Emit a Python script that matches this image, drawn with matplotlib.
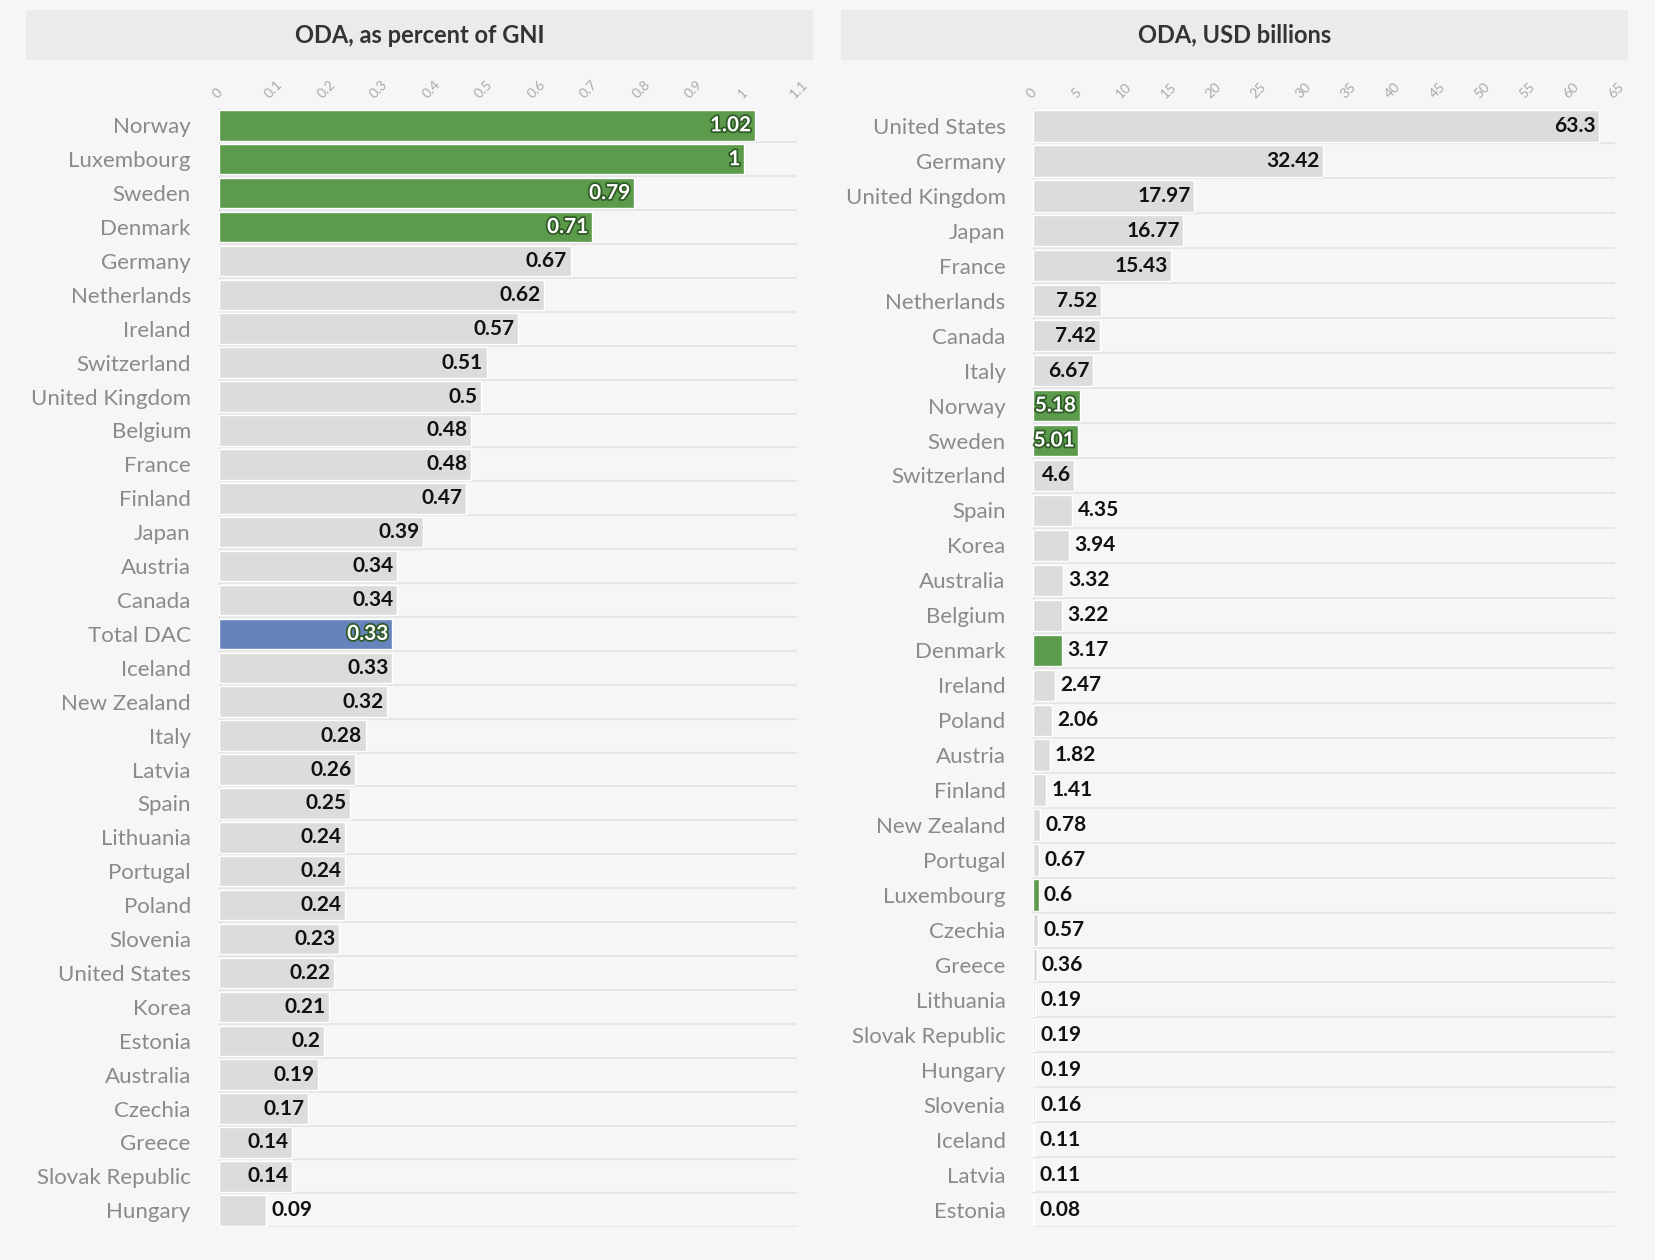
import matplotlib.pyplot as plt
import matplotlib.patheffects as pe

plt.rcParams['font.family'] = 'Lato'

# left panel: ODA as percent of GNI
gni_names = ['Norway', 'Luxembourg', 'Sweden', 'Denmark', 'Germany', 'Netherlands', 'Ireland',
             'Switzerland', 'United Kingdom', 'Belgium', 'France', 'Finland', 'Japan', 'Austria',
             'Canada', 'Total DAC', 'Iceland', 'New Zealand', 'Italy', 'Latvia', 'Spain',
             'Lithuania', 'Portugal', 'Poland', 'Slovenia', 'United States', 'Korea', 'Estonia',
             'Australia', 'Czechia', 'Greece', 'Slovak Republic', 'Hungary']
gni_vals = [1.02, 1, 0.79, 0.71, 0.67, 0.62, 0.57, 0.51, 0.5, 0.48, 0.48, 0.47, 0.39, 0.34,
            0.34, 0.33, 0.33, 0.32, 0.28, 0.26, 0.25, 0.24, 0.24, 0.24, 0.23, 0.22, 0.21, 0.2,
            0.19, 0.17, 0.14, 0.14, 0.09]

# right panel: ODA, USD billions
usd_names = ['United States', 'Germany', 'United Kingdom', 'Japan', 'France', 'Netherlands',
             'Canada', 'Italy', 'Norway', 'Sweden', 'Switzerland', 'Spain', 'Korea', 'Australia',
             'Belgium', 'Denmark', 'Ireland', 'Poland', 'Austria', 'Finland', 'New Zealand',
             'Portugal', 'Luxembourg', 'Czechia', 'Greece', 'Lithuania', 'Slovak Republic',
             'Hungary', 'Slovenia', 'Iceland', 'Latvia', 'Estonia']
usd_vals = [63.3, 32.42, 17.97, 16.77, 15.43, 7.52, 7.42, 6.67, 5.18, 5.01, 4.6, 4.35, 3.94,
            3.32, 3.22, 3.17, 2.47, 2.06, 1.82, 1.41, 0.78, 0.67, 0.6, 0.57, 0.36, 0.19, 0.19,
            0.19, 0.16, 0.11, 0.11, 0.08]

green_set = ['Norway', 'Luxembourg', 'Sweden', 'Denmark']
GREEN, BLUE, GREY, BG = '#5c9a4c', '#6683bd', '#dcdcdc', '#f6f6f8'


def color_of(n):
    if n in green_set:
        return GREEN
    if n == 'Total DAC':
        return BLUE
    return GREY


fig = plt.figure(figsize=(16.56, 12.6), dpi=100, facecolor=BG)


def panel(rect, title_rect, title, names, vals, xmax, ticks, tick_fmt, inside_min):
    tax = fig.add_axes(title_rect)
    tax.set_facecolor('#ebebeb')
    tax.set_xticks([]); tax.set_yticks([])
    for s in tax.spines.values():
        s.set_visible(False)
    tax.text(0.5, 0.5, title, ha='center', va='center', fontsize=17, fontweight='bold', color='#333333')

    ax = fig.add_axes(rect)
    ax.set_facecolor(BG)
    y = list(range(len(names)))
    cols = [color_of(n) for n in names]
    for yi in y:
        ax.axhline(yi + 0.5, color='#e6e6e6', lw=1.5, zorder=0)
    ax.barh(y, vals, height=0.9, color=cols, edgecolor='white', linewidth=1, zorder=2)
    ax.set_ylim(len(names) - 0.5, -0.5)
    ax.set_xlim(0, xmax)
    ax.set_yticks(y)
    ax.set_yticklabels(names, fontsize=16, color='#8a8a8a')
    ax.tick_params(axis='y', length=0, pad=20)
    ax.xaxis.tick_top()
    ax.set_xticks(ticks)
    ax.set_xticklabels([tick_fmt(t) for t in ticks], rotation=45, fontsize=10, color='#aaaaaa',
                       ha='left', rotation_mode='anchor')
    ax.tick_params(axis='x', length=0, pad=6)
    for s in ax.spines.values():
        s.set_visible(False)
    ax.axvline(0, color='#dddddd', lw=1, zorder=1)
    off = xmax * 0.006
    for yi, v, n, c in zip(y, vals, names, cols):
        lab = f'{v:g}'
        if c != GREY and v >= inside_min:
            t = ax.text(v - off, yi, lab, ha='right', va='center', fontsize=15, fontweight='bold',
                        color='white', zorder=3)
            t.set_path_effects([pe.withStroke(linewidth=2.5, foreground='#2e5a25')])
        elif c == GREY and v >= inside_min:
            ax.text(v - off, yi, lab, ha='right', va='center', fontsize=15, fontweight='bold',
                    color='#111111', zorder=3)
        else:
            ax.text(v + off * 1.5, yi, lab, ha='left', va='center', fontsize=15, fontweight='bold',
                    color='#111111', zorder=3)
    return ax


panel([0.132, 0.026, 0.349, 0.888], [0.016, 0.952, 0.475, 0.04], 'ODA, as percent of GNI',
      gni_names, gni_vals, 1.1, [i / 10 for i in range(12)], lambda t: f'{t:g}', 0.12)
panel([0.624, 0.026, 0.351, 0.888], [0.508, 0.952, 0.475, 0.04], 'ODA, USD billions',
      usd_names, usd_vals, 65, list(range(0, 70, 5)), lambda t: f'{t:g}', 4.5)

fig.savefig('out.png', dpi=100, facecolor=BG)
